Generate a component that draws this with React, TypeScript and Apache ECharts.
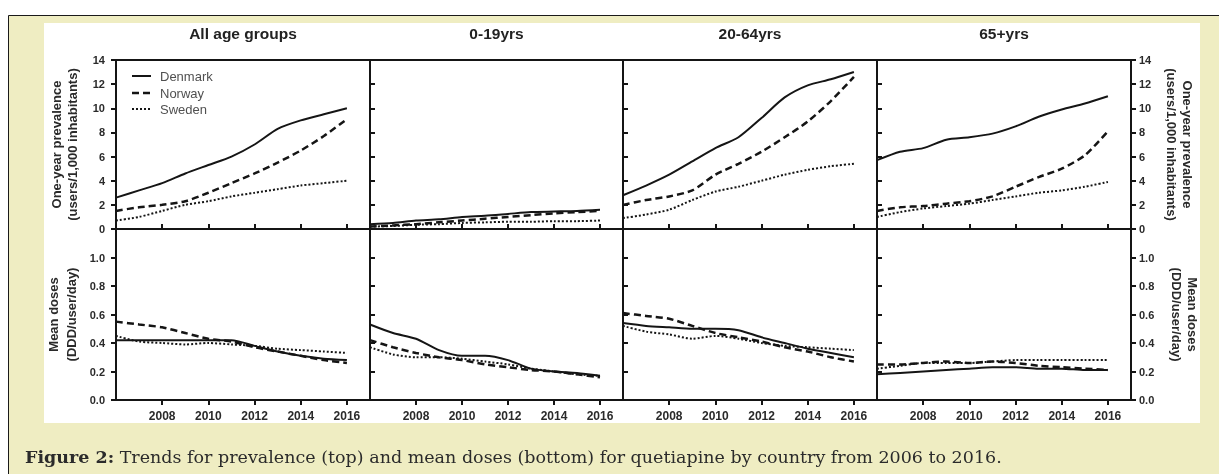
import React, { useEffect, useRef } from "react";
import * as echarts from "echarts";

const years = [2006, 2007, 2008, 2009, 2010, 2011, 2012, 2013, 2014, 2015, 2016];
const countries = ["Denmark", "Norway", "Sweden"];
const panelTitles = ["All age groups", "0-19yrs", "20-64yrs", "65+yrs"];

// Prevalence (users/1,000 inhabitants)
const prevAllDK = [2.6, 3.2, 3.8, 4.6, 5.3, 6.0, 7.0, 8.3, 9.0, 9.5, 10.0];
const prevAllNO = [1.5, 1.8, 2.0, 2.3, 3.0, 3.8, 4.6, 5.5, 6.5, 7.7, 9.1];
const prevAllSE = [0.7, 1.0, 1.5, 2.0, 2.3, 2.7, 3.0, 3.3, 3.6, 3.8, 4.0];

const prev019DK = [0.4, 0.5, 0.7, 0.8, 1.0, 1.1, 1.25, 1.4, 1.45, 1.5, 1.6];
const prev019NO = [0.2, 0.3, 0.4, 0.55, 0.7, 0.85, 1.0, 1.15, 1.3, 1.4, 1.5];
const prev019SE = [0.2, 0.25, 0.35, 0.4, 0.5, 0.55, 0.6, 0.6, 0.65, 0.65, 0.7];

const prev2064DK = [2.8, 3.6, 4.5, 5.6, 6.7, 7.6, 9.2, 10.9, 11.9, 12.4, 13.0];
const prev2064NO = [2.0, 2.4, 2.7, 3.2, 4.5, 5.4, 6.4, 7.6, 8.9, 10.6, 12.6];
const prev2064SE = [0.9, 1.2, 1.6, 2.4, 3.1, 3.5, 4.0, 4.5, 4.9, 5.2, 5.4];

const prev65DK = [5.7, 6.4, 6.7, 7.4, 7.6, 7.9, 8.5, 9.3, 9.9, 10.4, 11.0];
const prev65NO = [1.5, 1.8, 1.9, 2.1, 2.3, 2.7, 3.5, 4.3, 5.0, 6.1, 8.1];
const prev65SE = [1.0, 1.4, 1.7, 1.9, 2.1, 2.4, 2.7, 3.0, 3.2, 3.5, 3.9];

// Mean doses (DDD/user/day)
const doseAllDK = [0.42, 0.42, 0.42, 0.42, 0.42, 0.42, 0.38, 0.34, 0.31, 0.29, 0.28];
const doseAllNO = [0.55, 0.53, 0.51, 0.47, 0.43, 0.41, 0.37, 0.34, 0.31, 0.28, 0.26];
const doseAllSE = [0.45, 0.41, 0.4, 0.39, 0.4, 0.39, 0.38, 0.36, 0.35, 0.34, 0.33];

const dose019DK = [0.53, 0.47, 0.43, 0.35, 0.31, 0.31, 0.28, 0.22, 0.2, 0.19, 0.17];
const dose019NO = [0.42, 0.37, 0.33, 0.3, 0.28, 0.25, 0.23, 0.21, 0.2, 0.18, 0.16];
const dose019SE = [0.37, 0.32, 0.3, 0.3, 0.29, 0.27, 0.25, 0.22, 0.2, 0.18, 0.17];

const dose2064DK = [0.54, 0.52, 0.51, 0.5, 0.5, 0.49, 0.44, 0.4, 0.36, 0.33, 0.3];
const dose2064NO = [0.61, 0.59, 0.57, 0.52, 0.47, 0.44, 0.41, 0.37, 0.34, 0.3, 0.27];
const dose2064SE = [0.52, 0.48, 0.46, 0.43, 0.45, 0.43, 0.4, 0.38, 0.37, 0.36, 0.35];

const dose65DK = [0.18, 0.19, 0.2, 0.21, 0.22, 0.23, 0.23, 0.22, 0.22, 0.21, 0.21];
const dose65NO = [0.25, 0.25, 0.26, 0.27, 0.26, 0.27, 0.26, 0.24, 0.23, 0.22, 0.21];
const dose65SE = [0.22, 0.24, 0.26, 0.26, 0.26, 0.27, 0.28, 0.28, 0.28, 0.28, 0.28];

const prevData = [
  [prevAllDK, prevAllNO, prevAllSE],
  [prev019DK, prev019NO, prev019SE],
  [prev2064DK, prev2064NO, prev2064SE],
  [prev65DK, prev65NO, prev65SE],
];
const doseData = [
  [doseAllDK, doseAllNO, doseAllSE],
  [dose019DK, dose019NO, dose019SE],
  [dose2064DK, dose2064NO, dose2064SE],
  [dose65DK, dose65NO, dose65SE],
];

const caption = "Trends for prevalence (top) and mean doses (bottom) for quetiapine by country from 2006 to 2016.";

const INK = "#151515";
const FONT = "Liberation Sans, Arial, sans-serif";
const lineStyles: any[] = [
  { type: "solid", width: 2 },
  { type: [7, 4], width: 2.5 },
  { type: [2, 2], width: 2 },
];
const legendDash: any[] = [null, [7, 4], [2, 2]];

export default function App() {
  const ref = useRef<HTMLDivElement>(null);

  useEffect(() => {
    if (!ref.current) return;
    const chart = echarts.init(ref.current, undefined, { renderer: "svg" });

    const lefts = [116, 370, 623, 877];
    const widths = [254, 253, 254, 254];
    const grids: any[] = [];
    const xAxes: any[] = [];
    const yAxes: any[] = [];
    const series: any[] = [];

    const tickLabel = { fontSize: 11, fontWeight: "bold", color: "#2a2a2a", fontFamily: FONT };
    const nameStyle = { fontSize: 13, fontWeight: "bold", color: "#2a2a2a", fontFamily: FONT, lineHeight: 16 };

    for (let row = 0; row < 2; row++) {
      for (let p = 0; p < 4; p++) {
        const gi = grids.length;
        const isTop = row === 0;
        grids.push({
          left: lefts[p],
          width: widths[p],
          top: isTop ? 60 : 229,
          height: isTop ? 169 : 171,
          show: true,
          borderColor: INK,
          borderWidth: 2,
          backgroundColor: "transparent",
        });
        xAxes.push({
          type: "value",
          gridIndex: gi,
          min: 2006,
          max: 2017,
          interval: 2,
          axisLine: { show: false },
          splitLine: { show: false },
          axisTick: { show: true, inside: isTop, length: 5, lineStyle: { color: INK, width: 2 } },
          axisLabel: {
            show: !isTop,
            showMinLabel: false,
            showMaxLabel: false,
            margin: 10,
            formatter: (v: number) => String(v),
            ...tickLabel,
            fontSize: 12,
          },
        });
        const yBase: any = {
          type: "value",
          gridIndex: gi,
          min: 0,
          max: isTop ? 14 : 1.2,
          interval: isTop ? 2 : 0.2,
          splitLine: { show: false },
          axisLine: { show: false },
        };
        yAxes.push({
          ...yBase,
          position: "left",
          axisTick: { show: true, inside: p !== 0, length: 5, lineStyle: { color: INK, width: 2 } },
          axisLabel: {
            show: p === 0,
            showMaxLabel: isTop,
            margin: 11,
            formatter: (v: number) => (isTop ? String(v) : v.toFixed(1)),
            ...tickLabel,
          },
          name: p === 0 ? (isTop ? "One-year prevalence\n(users/1,000 inhabitants)" : "Mean doses\n(DDD/user/day)") : "",
          nameLocation: "middle",
          nameGap: 36,
          nameTextStyle: isTop ? nameStyle : { ...nameStyle, lineHeight: 18 },
        });
        if (p === 3) {
          yAxes.push({
            ...yBase,
            position: "right",
            axisTick: { show: true, inside: false, length: 5, lineStyle: { color: INK, width: 2 } },
            axisLabel: {
              show: true,
              showMaxLabel: isTop,
              margin: 8,
              formatter: (v: number) => (isTop ? String(v) : v.toFixed(1)),
              ...tickLabel,
            },
            name: isTop ? "One-year prevalence\n(users/1,000 inhabitants)" : "Mean doses\n(DDD/user/day)",
            nameLocation: "middle",
            nameRotate: -90,
            nameGap: isTop ? 32 : 37,
            nameTextStyle: nameStyle,
          });
        }
        const yi = yAxes.length - (p === 3 ? 2 : 1);
        const dataSet = isTop ? prevData[p] : doseData[p];
        for (let c = 0; c < 3; c++) {
          series.push({
            type: "line",
            name: countries[c],
            xAxisIndex: gi,
            yAxisIndex: yi,
            data: years.map((y, i) => [y, dataSet[c][i]]),
            symbol: "none",
            smooth: 0.25,
            lineStyle: { color: INK, ...lineStyles[c] },
            itemStyle: { color: INK },
            z: 3,
          });
        }
      }
    }

    const titleCenters = lefts.map((l, i) => l + widths[i] / 2);
    const legendY = [76, 93, 109];

    const legendGraphics: any[] = [];
    countries.forEach((name, i) => {
      legendGraphics.push({
        type: "line",
        silent: true,
        shape: { x1: 132, y1: legendY[i], x2: 151, y2: legendY[i] },
        style: {
          stroke: INK,
          lineWidth: i === 1 ? 2.5 : 2,
          lineDash: legendDash[i],
        },
      });
      legendGraphics.push({
        type: "text",
        silent: true,
        x: 160,
        y: legendY[i],
        style: {
          text: name,
          fill: "#505050",
          font: `13px ${FONT}`,
          textVerticalAlign: "middle",
        },
      });
    });

    chart.setOption({
      animation: false,
      backgroundColor: "transparent",
      grid: grids,
      xAxis: xAxes,
      yAxis: yAxes,
      series,
      graphic: [
        {
          type: "rect",
          silent: true,
          z: -10,
          shape: { x: 8.5, y: 15.5, width: 1230, height: 480 },
          style: { fill: "#efedc2", stroke: "#1a1a1a", lineWidth: 1 },
        },
        {
          type: "rect",
          silent: true,
          z: -9,
          shape: { x: 44, y: 23, width: 1156, height: 400 },
          style: { fill: "#ffffff" },
        },
        ...legendGraphics,
        ...panelTitles.map((t, i) => ({
          type: "text",
          silent: true,
          x: titleCenters[i],
          y: 33,
          style: {
            text: t,
            fill: "#222",
            font: `bold 15.5px ${FONT}`,
            textAlign: "center",
            textVerticalAlign: "middle",
          },
        })),
        {
          type: "text",
          silent: true,
          x: 25,
          y: 457,
          style: {
            text: `{b|Figure 2:} ${caption}`,
            fill: "#2b2b2b",
            font: "17.5px DejaVu Serif, serif",
            textVerticalAlign: "middle",
            rich: {
              b: { fontWeight: "bold", fontSize: 17.5, fontFamily: "DejaVu Serif, serif", fill: "#2b2b2b" },
            },
          },
        },
      ],
    });

    return () => chart.dispose();
  }, []);

  return (
    <div
      ref={ref}
      style={{ position: "fixed", left: 0, top: 0, width: 1219, height: 474 }}
    />
  );
}
